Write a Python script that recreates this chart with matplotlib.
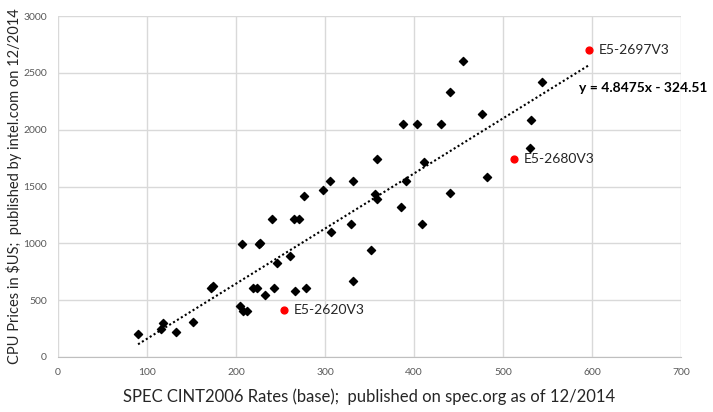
import numpy as np
import matplotlib
matplotlib.use("Agg")
import matplotlib.pyplot as plt

plt.rcParams['font.family'] = ['Lato', 'DejaVu Sans']

# SPEC CINT2006 rate (base) vs. list price in $US
spec_rates = [90, 117.6, 115.4, 132.6, 152, 171.5, 173.8, 206.4, 204.5, 207.5,
              212.7, 218.7, 223.2, 227, 226.2, 233, 240.4, 242.7, 245.7, 260.7,
              265.2, 271.1, 266.7, 276, 278.7, 298, 305.6, 306.4, 328.9, 331.1,
              331.1, 351.3, 356.5, 358, 358, 385, 387.3, 391, 403, 409,
              411.6, 430.7, 440, 440.8, 454.7, 476.4, 482.4, 530, 531.8, 544.2]
cpu_prices = [199, 301, 246, 217, 304, 608, 625, 991, 447, 406,
              403, 611, 611, 1006, 991, 546, 1210, 611, 830, 886,
              1213, 1213, 582, 1418, 611, 1470, 1546, 1102, 1166, 1546,
              667, 941, 1435, 1386, 1742, 1324, 2050, 1546, 2050, 1166,
              1715, 2050, 1441, 2333, 2608, 2137, 1587, 1838, 2087, 2421]

# highlighted parts
hl_names = ['E5-2620V3', 'E5-2680V3', 'E5-2697V3']
hl_rates = [254, 512.4, 597]
hl_prices = [417, 1745, 2702]

# linear trendline as reported by the spreadsheet
slope = 4.8475
intercept = -324.51

fig = plt.figure(figsize=(7.13, 4.12), dpi=100)
ax = fig.add_axes([0.0813, 0.1335, 0.8737, 0.8275])

ax.set_xlim(0, 700)
ax.set_ylim(0, 3000)
ax.set_xticks(np.arange(0, 701, 100))
ax.set_yticks(np.arange(0, 3001, 500))
ax.grid(True, color='#d9d9d9', linewidth=1)
ax.set_axisbelow(True)
for side in ['top', 'right', 'left']:
    ax.spines[side].set_visible(False)
ax.spines['bottom'].set_color('#bfbfbf')
ax.tick_params(length=0, labelsize=7.5, labelcolor='#595959', pad=8)

all_x = spec_rates + hl_rates
tx = np.array([min(all_x), max(all_x)])
ax.plot(tx, slope * tx + intercept, color='black', linestyle=(0, (1, 1.2)),
        linewidth=1.5, zorder=2)

ax.scatter(spec_rates, cpu_prices, marker='D', s=17, color='black', zorder=3)
ax.scatter(hl_rates, hl_prices, marker='o', s=24, color='#ff0000', zorder=3)

for name, x, y in zip(hl_names, hl_rates, hl_prices):
    ax.annotate(name, (x, y), xytext=(7, 0), textcoords='offset points',
                va='center', ha='left', fontsize=10, color='#262626')

ax.text(586, 2365, 'y = 4.8475x - 324.51', fontsize=10, fontweight='bold',
        va='center', ha='left', clip_on=False)

ax.set_xlabel('SPEC CINT2006 Rates (base);  published on spec.org as of 12/2014',
              fontsize=12, color='#262626', labelpad=8)
ax.set_ylabel('CPU Prices in $US;  published by intel.com on 12/2014',
              fontsize=10.5, color='#262626')
ax.yaxis.set_label_coords(-0.058, 0.5)

fig.savefig('out.png', dpi=100)
